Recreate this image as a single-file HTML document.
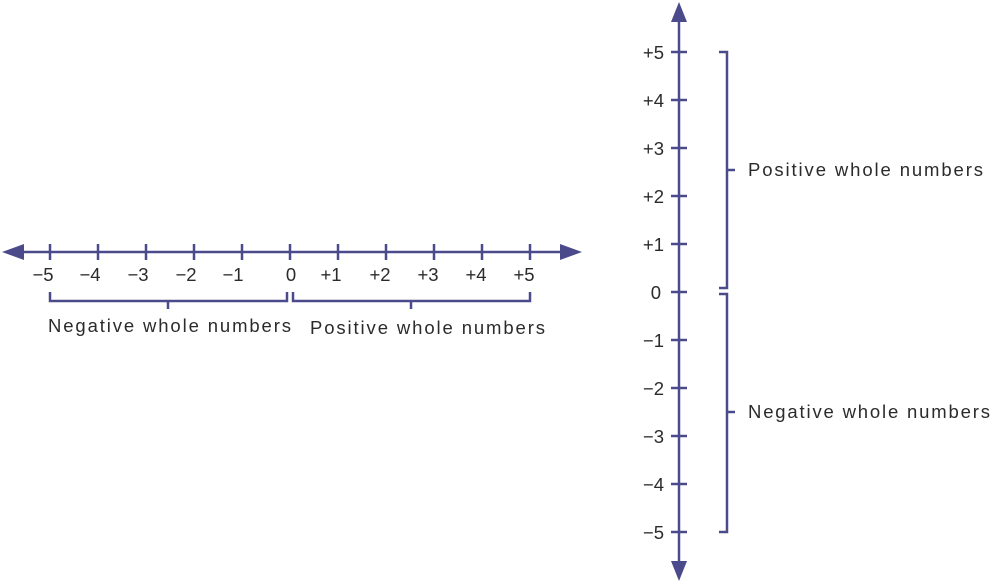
<!DOCTYPE html>
<html><head><style>
body{margin:0;background:#fff;}
svg{display:block;}
text{font-family:"Liberation Sans",sans-serif;font-size:18.5px;fill:#2b2b2b;}
</style></head><body>
<svg width="990" height="583" viewBox="0 0 990 583">
<g stroke="#4b4a8a" stroke-width="2.5" fill="none">
<line x1="14" y1="252" x2="566" y2="252"/>
<path d="M50 244V260M98 244V260M146 244V260M194 244V260M242 244V260M290 244V260M338 244V260M386 244V260M434 244V260M482 244V260M530 244V260"/>
<path d="M50 292V301H287V292M168 301V309"/>
<path d="M293 292V301H530V292M411 301V309"/>
<line x1="679" y1="16" x2="679" y2="568"/>
<path d="M671 52H687M671 100H687M671 148H687M671 196H687M671 244H687M671 292H687M671 340H687M671 388H687M671 436H687M671 484H687M671 532H687"/>
<path d="M719 52H727V288H719M727 170H735"/>
<path d="M719 294H727V532H719M727 412H735"/>
</g>
<g fill="#4b4a8a">
<polygon points="2,252 24,244 24,260"/>
<polygon points="582,252 560,244 560,260"/>
<polygon points="679,2 671,22 687,22"/>
<polygon points="679,581 671,561 687,561"/>
</g>
<g text-anchor="middle">
<text x="43" y="281">−5</text><text x="90" y="281">−4</text><text x="138" y="281">−3</text><text x="186" y="281">−2</text><text x="233" y="281">−1</text>
<text x="291" y="281">0</text><text x="331" y="281">+1</text><text x="380" y="281">+2</text><text x="428" y="281">+3</text><text x="476" y="281">+4</text><text x="524" y="281">+5</text>
</g>
<text x="48" y="332" textLength="243" lengthAdjust="spacing">Negative whole numbers</text>
<text x="310" y="334" textLength="235" lengthAdjust="spacing">Positive whole numbers</text>
<g text-anchor="end">
<text x="664" y="59">+5</text><text x="664" y="107">+4</text><text x="664" y="155">+3</text><text x="664" y="203">+2</text><text x="664" y="251">+1</text>
<text x="661" y="299">0</text><text x="664" y="347">−1</text><text x="664" y="395">−2</text><text x="664" y="443">−3</text><text x="664" y="491">−4</text><text x="664" y="539">−5</text>
</g>
<text x="748" y="176" textLength="235" lengthAdjust="spacing">Positive whole numbers</text>
<text x="748" y="418" textLength="242" lengthAdjust="spacing">Negative whole numbers</text>
</svg>
</body></html>
